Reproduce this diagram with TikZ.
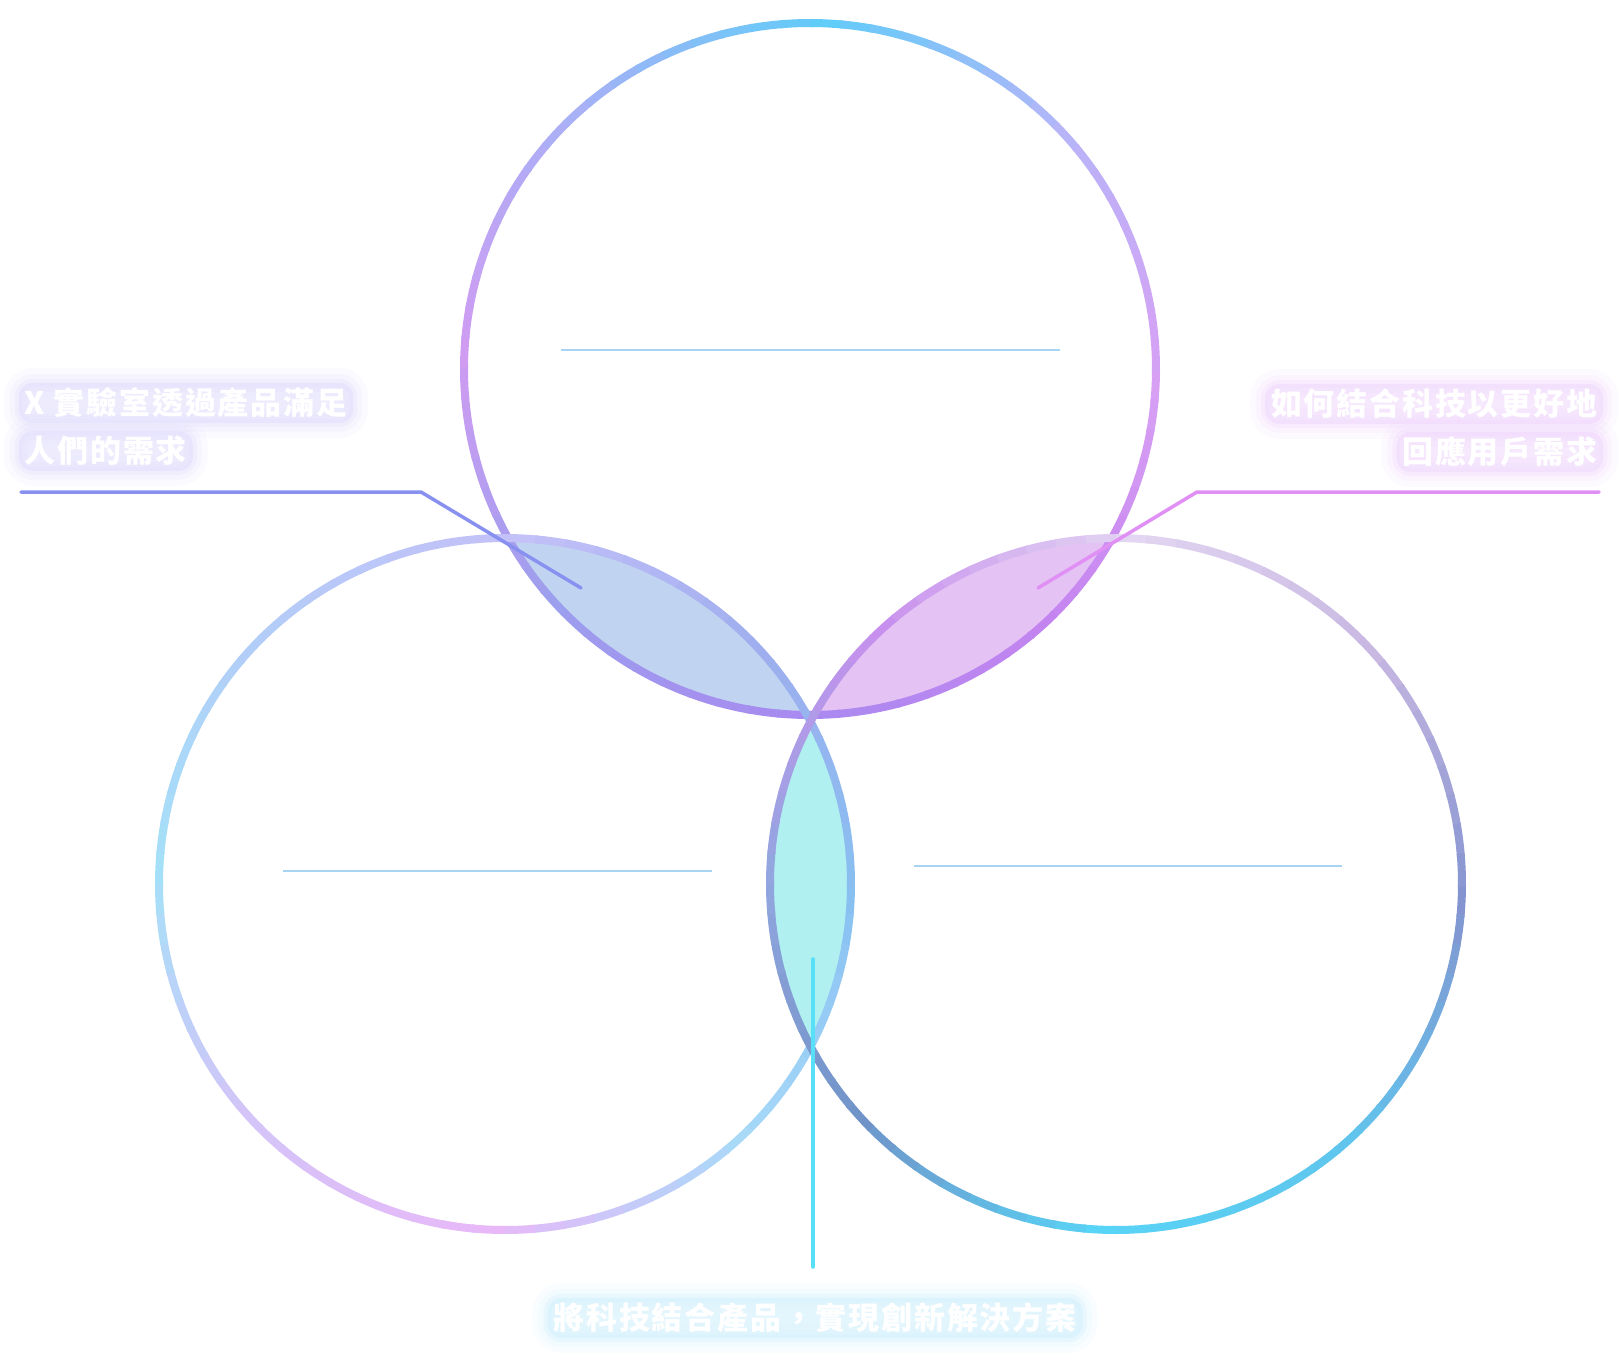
\documentclass[tikz,border=0pt]{standalone}
\usepackage{fontspec}
\usepackage{xcolor}
\usepackage{tikz}
\newfontfamily\cjkwide{Noto Sans CJK TC}[LetterSpace=6]

% ring colours, one every 45 degrees (y axis points down, so 90 = bottom)
\definecolor{topc0}{HTML}{D8A0F4}
\definecolor{topc1}{HTML}{C484F0}
\definecolor{topc2}{HTML}{A88AF0}
\definecolor{topc3}{HTML}{9C9EEE}
\definecolor{topc4}{HTML}{D09CF2}
\definecolor{topc5}{HTML}{A8B0F6}
\definecolor{topc6}{HTML}{60CCF8}
\definecolor{topc7}{HTML}{B8B4F8}
\definecolor{leftc0}{HTML}{88C0F2}
\definecolor{leftc1}{HTML}{A8DAF8}
\definecolor{leftc2}{HTML}{E8B8F8}
\definecolor{leftc3}{HTML}{D4C4F8}
\definecolor{leftc4}{HTML}{A4E0F8}
\definecolor{leftc5}{HTML}{B4CCF8}
\definecolor{leftc6}{HTML}{C4C0F8}
\definecolor{leftc7}{HTML}{9EAEEE}
\definecolor{rightc0}{HTML}{8494D0}
\definecolor{rightc1}{HTML}{60C4EC}
\definecolor{rightc2}{HTML}{58D4F6}
\definecolor{rightc3}{HTML}{7094C8}
\definecolor{rightc4}{HTML}{94A6E0}
\definecolor{rightc5}{HTML}{C890EE}
\definecolor{rightc6}{HTML}{E2D6F2}
\definecolor{rightc7}{HTML}{C8B8E2}

\definecolor{lensTL}{HTML}{C0D3F0}
\definecolor{lensTR}{HTML}{E4C2F4}
\definecolor{lensB}{HTML}{B0F0F0}
\definecolor{rule}{HTML}{A8D4F4}
\definecolor{linkL}{HTML}{8890F0}
\definecolor{linkR}{HTML}{E090F4}
\definecolor{linkB}{HTML}{58E0F8}
\definecolor{glowL}{HTML}{E2DEFC}
\definecolor{glowR}{HTML}{F0D8FC}
\definecolor{glowB}{HTML}{D2F0FC}

% circle outline whose colour runs round it
\newcommand{\gradring}[2]{%
  \foreach \s in {0,...,7}{%
    \pgfmathtruncatemacro{\nxt}{mod(\s+1,8)}%
    \foreach \k in {0,...,8}{%
      \pgfmathsetmacro{\mixp}{100-100*\k/9}%
      \pgfmathsetmacro{\ang}{45*\s+5*\k}%
      \colorlet{segc}{#2\s!\mixp!#2\nxt}%
      \draw[ring, segc] (#1) ++(\ang:346) arc[start angle=\ang, delta angle=5.5, radius=346];%
    }%
  }%
}

\begin{document}
\begin{tikzpicture}[
    x=0.01cm, y=-0.01cm,
    ring/.style={line width=0.08cm, line cap=butt},
    rule/.style={draw=rule, line width=0.02cm},
    link/.style={line width=0.035cm, line cap=round, line join=round},
    glow/.style={text=white, rounded corners=0.14cm,
                 inner xsep=0.06cm, inner ysep=0.05cm,
                 preaction={draw=#1, line width=0.3cm, opacity=0.12},
                 preaction={draw=#1, line width=0.18cm, opacity=0.2},
                 preaction={draw=#1, line width=0.08cm, opacity=0.3},
                 preaction={fill=#1, opacity=0.6}},
    textlabel/.style={glow=#1, font=\cjkwide\bfseries\fontsize{8.8}{11}\selectfont}
]
\useasboundingbox (0,0) rectangle (1620,1360);

% Circle centres
\coordinate (T) at (810,369);
\coordinate (L) at (505,884);
\coordinate (R) at (1116,884);

% Overlaps
\begin{scope}
  \clip (T) circle[radius=346];
  \fill[lensTL] (L) circle[radius=346];
  \fill[lensTR] (R) circle[radius=346];
\end{scope}
\begin{scope}
  \clip (L) circle[radius=346];
  \fill[lensB] (R) circle[radius=346];
\end{scope}

% Rings
\gradring{T}{topc}
\gradring{L}{leftc}
\gradring{R}{rightc}

% Rules inside the circles
\coordinate (ruleT1) at (561,350);
\coordinate (ruleT2) at (1060,350);
\coordinate (ruleL1) at (283,871);
\coordinate (ruleL2) at (712,871);
\coordinate (ruleR1) at (914,866);
\coordinate (ruleR2) at (1342,866);
\draw[rule] (ruleT1) -- (ruleT2);
\draw[rule] (ruleL1) -- (ruleL2);
\draw[rule] (ruleR1) -- (ruleR2);

% Labels
\node[textlabel=glowL, anchor=west] (labL1) at (18,403) {X 實驗室透過產品滿足};
\node[textlabel=glowL, anchor=west] (labL2) at (18,451) {人們的需求};
\node[textlabel=glowR, anchor=east] (labR1) at (1604,404) {如何結合科技以更好地};
\node[textlabel=glowR, anchor=east] (labR2) at (1604,452) {回應用戶需求};
\node[textlabel=glowB] (labB) at (815,1318) {將科技結合產品，實現創新解決方案};

% Connectors
\coordinate (endL) at (21,492);
\coordinate (bendL) at (421,492);
\coordinate (lensL) at (581,588);
\coordinate (endR) at (1599,492);
\coordinate (bendR) at (1197,492);
\coordinate (lensR) at (1038,588);
\coordinate (lensBot) at (813,959);
\coordinate (endB) at (813,1267);
\draw[link, linkL] (endL) -- (bendL) -- (lensL);
\draw[link, linkR] (endR) -- (bendR) -- (lensR);
\draw[link, linkB] (lensBot) -- (endB);

\end{tikzpicture}
\end{document}
